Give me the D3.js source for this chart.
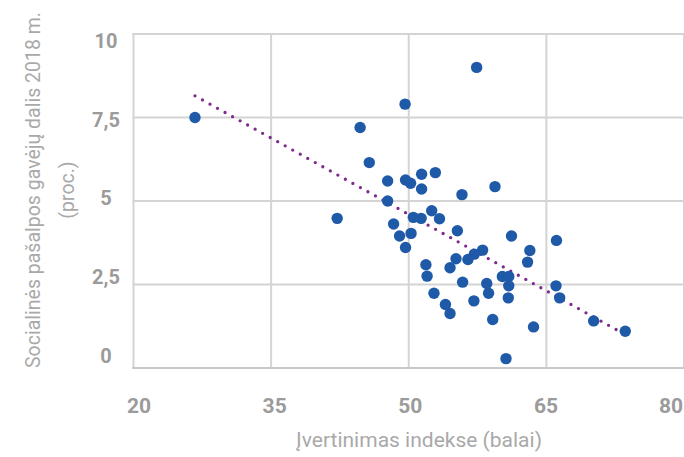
<!DOCTYPE html>
<html>
<head>
<meta charset="utf-8">
<script src="https://cdn.jsdelivr.net/npm/d3@7"></script>
<style>
    html, body { margin: 0; padding: 0; background: #fff; }
    svg { display: block; }
    .tick-label { font-family: Roboto, "DejaVu Sans", sans-serif; font-weight: 700; fill: #9b9b9b; }
    .axis-title { font-family: Roboto, "DejaVu Sans", sans-serif; font-weight: 400; fill: #a9a9a9; }
</style>
</head>
<body>
<svg id="chart" width="684" height="457"></svg>
<script>
"use strict"

// Index score (x) and share of social benefit recipients in 2018, % (y)
const indexScores = [
    26.7, 57.4, 49.6, 44.7, 45.7, 47.7, 49.65, 50.2, 51.4, 52.9,
    51.4, 55.8, 59.4, 47.7, 42.2, 48.35, 49.0, 50.25, 49.65, 50.5,
    51.35, 52.5, 53.35, 55.3, 61.2, 66.1, 63.2, 62.95, 58.05, 57.15,
    56.45, 55.15, 54.5, 51.87, 52.0, 55.87, 58.5, 58.7, 60.2, 60.9,
    60.9, 60.85, 52.75, 54.0, 54.5, 57.1, 59.15, 63.6, 60.6, 66.05,
    66.45, 70.15, 73.6
]
const shareValues = [
    7.5, 9.0, 7.9, 7.2, 6.15, 5.6, 5.63, 5.53, 5.8, 5.85,
    5.36, 5.19, 5.43, 5.0, 4.48, 4.31, 3.95, 4.03, 3.61, 4.51,
    4.48, 4.71, 4.47, 4.11, 3.95, 3.82, 3.52, 3.17, 3.53, 3.41,
    3.25, 3.27, 3.0, 3.09, 2.75, 2.57, 2.53, 2.24, 2.74, 2.74,
    2.46, 2.10, 2.24, 1.90, 1.63, 2.01, 1.45, 1.23, 0.28, 2.46,
    2.10, 1.41, 1.10
]

// Linear trend line end points
const trendX = [26.7, 73.6]
const trendY = [8.15, 1.0]

// Axis ticks
const xTicks = [20, 35, 50, 65, 80]
const xTickLabels = ["20", "35", "50", "65", "80"]
const yTicks = [0, 2.5, 5, 7.5, 10]
const yTickLabels = ["0", "2,5", "5", "7,5", "10"]

const yTitleLines = ["Socialinės pašalpos gavėjų dalis 2018 m.", "(proc.)"]
const xTitle = "Įvertinimas indekse (balai)"

function init(){
    const properties = {}
    properties.svg = d3.select("#chart")
    properties.plot = { left: 133.5, right: 684, top: 34, bottom: 368 }

    properties.xScale = d3.scaleLinear().domain([20, 80]).range([properties.plot.left, properties.plot.right])
    properties.yScale = d3.scaleLinear().domain([0, 10]).range([properties.plot.bottom, properties.plot.top])
    // tick labels in the original sit on a slightly tighter spacing than the grid
    properties.xLabelScale = d3.scaleLinear().domain([20, 65]).range([139, 546])
    properties.yLabelScale = d3.scaleLinear().domain([0, 10]).range([356, 40.7])

    renderGrid(properties)
    renderLabels(properties)
    renderTrend(properties)
    renderPoints(properties)
}

function renderGrid(properties){
    const svg = properties.svg
    const p = properties.plot
    const grid = svg.append("g").attr("class", "grid")

    grid.selectAll("line.h")
        .data(yTicks)
        .enter().append("line")
        .attr("class", "h")
        .attr("x1", p.left - 1)
        .attr("x2", p.right)
        .attr("y1", d => properties.yScale(d))
        .attr("y2", d => properties.yScale(d))
        .attr("stroke", "#d4d4d4")
        .attr("stroke-width", 2)

    grid.selectAll("line.v")
        .data(xTicks)
        .enter().append("line")
        .attr("class", "v")
        .attr("x1", d => properties.xScale(d))
        .attr("x2", d => properties.xScale(d))
        .attr("y1", p.top - 1)
        .attr("y2", p.bottom)
        .attr("stroke", "#d4d4d4")
        .attr("stroke-width", 2)

    // bottom axis line is a touch darker
    grid.append("line")
        .attr("x1", p.left - 1)
        .attr("x2", p.right)
        .attr("y1", properties.yScale(0))
        .attr("y2", properties.yScale(0))
        .attr("stroke", "#c8c8c8")
        .attr("stroke-width", 2.2)
}

function renderLabels(properties){
    const svg = properties.svg

    svg.selectAll("text.x-tick")
        .data(xTicks)
        .enter().append("text")
        .attr("class", "tick-label x-tick")
        // last label is pulled in so it stays on the canvas
        .attr("x", d => Math.min(properties.xLabelScale(d), 671))
        .attr("y", 406)
        .attr("text-anchor", "middle")
        .attr("dominant-baseline", "central")
        .style("font-size", "21px")
        .text((d, i) => xTickLabels[i])

    svg.selectAll("text.y-tick")
        .data(yTicks)
        .enter().append("text")
        .attr("class", "tick-label y-tick")
        .attr("x", 106)
        .attr("y", d => properties.yLabelScale(d))
        .attr("text-anchor", "middle")
        .attr("dominant-baseline", "central")
        .style("font-size", "20px")
        .text((d, i) => yTickLabels[i])

    svg.append("text")
        .attr("class", "axis-title")
        .attr("x", 419)
        .attr("y", 440)
        .attr("text-anchor", "middle")
        .attr("dominant-baseline", "central")
        .style("font-size", "21px")
        .text(xTitle)

    const titleX = [33, 67]
    svg.selectAll("text.y-title")
        .data(yTitleLines)
        .enter().append("text")
        .attr("class", "axis-title y-title")
        .attr("transform", (d, i) => "translate(" + titleX[i] + ",190) rotate(-90)")
        .attr("text-anchor", "middle")
        .attr("dominant-baseline", "central")
        .style("font-size", "19.5px")
        .text(d => d)
}

function renderTrend(properties){
    const line = d3.line()
        .x(d => properties.xScale(d[0]))
        .y(d => properties.yScale(d[1]))

    properties.svg.append("path")
        .datum(trendX.map((x, i) => [x, trendY[i]]))
        .attr("d", line)
        .attr("fill", "none")
        .attr("stroke", "#7d2a8c")
        .attr("stroke-width", 3.3)
        .attr("stroke-linecap", "round")
        .attr("stroke-dasharray", "0 8.6")
}

function renderPoints(properties){
    properties.svg.append("g")
        .selectAll("circle")
        .data(indexScores.map((x, i) => [x, shareValues[i]]))
        .enter().append("circle")
        .attr("cx", d => properties.xScale(d[0]))
        .attr("cy", d => properties.yScale(d[1]))
        .attr("r", 5.7)
        .attr("fill", "#1f5aa8")
}

init()
</script>
</body>
</html>
